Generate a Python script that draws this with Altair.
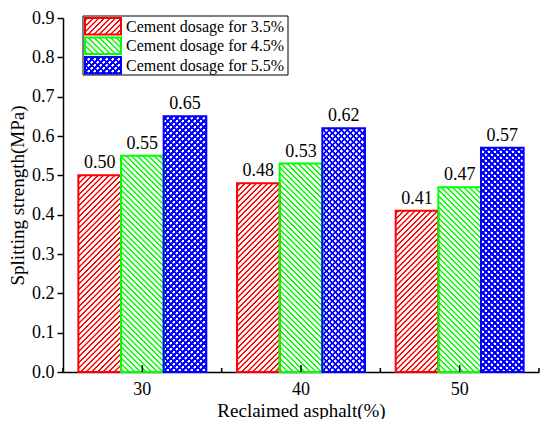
import altair as alt

# ---- data ----
categories = ["30", "40", "50"]
dosages = ["Cement dosage for 3.5%", "Cement dosage for 4.5%", "Cement dosage for 5.5%"]
v35 = [0.50, 0.48, 0.41]
v45 = [0.55, 0.53, 0.47]
v55 = [0.65, 0.62, 0.57]
colors = ["#FF0000", "#00FF00", "#0000FF"]
series = [v35, v45, v55]

FONT = "Liberation Serif"
W, H = 476, 354
YMAX = 0.9
PO = 0.36
bar_w = (W / 3) / (3 + 2 * PO)


def hatch(w, h, direction, color, bg, period=5.6, lw=2.0, soft=0.6):
    L = w + h
    m = max(1.0, L * w / (w * w + h * h)) * 1.02
    k = w / (m * (w * w + h * h))
    if direction == "/":
        x1, y1, x2, y2 = 0, 0, m, m * h / w
    else:
        x1, y1, x2, y2 = 0, 1, m, 1 - m * h / w
    stops = [{"offset": 0, "color": bg}]
    last = 0.0
    c = period / 2
    while c - lw / 2 - soft < L:
        for e, col in ((c - lw / 2 - soft / 2, bg), (c - lw / 2 + soft / 2, color),
                       (c + lw / 2 - soft / 2, color), (c + lw / 2 + soft / 2, bg)):
            t = min(1.0, max(last, e * k))
            stops.append({"offset": round(t, 5), "color": col})
            last = t
        c += period
    stops.append({"offset": 1, "color": bg})
    return {"gradient": "linear", "x1": x1, "y1": y1, "x2": x2, "y2": round(y2, 5), "stops": stops}


def fills(i, w, h):
    if i == 0:
        return hatch(w, h, "/", colors[0], "#FFFFFF"), None
    if i == 1:
        return hatch(w, h, "\\", colors[1], "#FFFFFF"), None
    return (hatch(w, h, "/", colors[2], "#FFFFFF", period=6.0, lw=2.6),
            hatch(w, h, "\\", colors[2], "rgba(0,0,255,0)", period=6.0, lw=2.6))


records = []
for i, (d, vals) in enumerate(zip(dosages, series)):
    for c, v in zip(categories, vals):
        h = v / YMAX * H
        gA, gB = fills(i, bar_w, h)
        rec = {"cat": c, "dosage": d, "value": v, "color": colors[i], "gA": gA}
        if gB is not None:
            rec["gB"] = gB
        records.append(rec)

bars_data = alt.Data(values=records)

x_enc = alt.X("cat:N", sort=categories,
              scale=alt.Scale(paddingInner=0, paddingOuter=0),
              axis=alt.Axis(title="Reclaimed asphalt(%)", labelAngle=0, ticks=False,
                            labelPadding=8, labelFontSize=18, titleFontSize=19,
                            titlePadding=3, domainWidth=1.5, zindex=0))
xo_enc = alt.XOffset("dosage:N", sort=dosages,
                     scale=alt.Scale(paddingInner=0, paddingOuter=PO))
y_enc = alt.Y("value:Q", stack=None,
              scale=alt.Scale(domain=[0, YMAX], nice=False, zero=True),
              axis=alt.Axis(title="Splitting strength(MPa)",
                            values=[0, 0.1, 0.2, 0.3, 0.4, 0.5, 0.6, 0.7, 0.8, 0.9],
                            format=".1f", grid=False, tickSize=6, tickWidth=1.5,
                            domainWidth=1.5, labelPadding=3, labelFontSize=18,
                            titleFontSize=19, titlePadding=4, zindex=1))

base = alt.Chart(bars_data).encode(x=x_enc, xOffset=xo_enc, y=y_enc)

layer_a = base.mark_bar().encode(fill=alt.Fill("gA:N", scale=None))
layer_b = base.transform_filter(alt.datum.dosage == dosages[2]).mark_bar().encode(
    fill=alt.Fill("gB:N", scale=None))
layer_s = base.mark_bar(fill="white", fillOpacity=0, strokeWidth=2).encode(
    stroke=alt.Stroke("color:N", scale=None))
labels = base.mark_text(baseline="bottom", dy=-3, font=FONT, fontSize=18, color="black").encode(
    text=alt.Text("value:Q", format=".2f"))

tick_data = alt.Data(values=[{"cat": c} for c in categories])
major_ticks = alt.Chart(tick_data).mark_rule(color="black", strokeWidth=1.5).encode(
    x=alt.X("cat:N", sort=categories), y=alt.value(H), y2=alt.value(H - 7))
minor_ticks = alt.Chart(tick_data).mark_rule(color="black", strokeWidth=1.5).encode(
    x=alt.X("cat:N", sort=categories, bandPosition=0), y=alt.value(H), y2=alt.value(H - 4))
end_tick = alt.Chart(alt.Data(values=[{"cat": categories[-1]}])).mark_rule(
    color="black", strokeWidth=1.5).encode(
    x=alt.X("cat:N", sort=categories, bandPosition=1), y=alt.value(H), y2=alt.value(H - 4))

# ---- legend (drawn by hand so swatches can carry the hatch patterns) ----
one = alt.Data(values=[{"k": 1}])
LX0, LX1, LY0, LY1 = 20, 225, -2, 57
SX0, SX1 = 22, 58
legend_layers = [
    alt.Chart(one).mark_rect(fill="white", stroke="black", strokeWidth=1).encode(
        x=alt.value(LX0), x2=alt.value(LX1), y=alt.value(LY0), y2=alt.value(LY1))
]
for i, d in enumerate(dosages):
    ya, yb = 0 + 19.5 * i, 16.5 + 19.5 * i
    gA, gB = fills(i, SX1 - SX0, yb - ya)
    legend_layers.append(alt.Chart(one).mark_rect(fill=gA).encode(
        x=alt.value(SX0), x2=alt.value(SX1), y=alt.value(ya), y2=alt.value(yb)))
    if gB is not None:
        legend_layers.append(alt.Chart(one).mark_rect(fill=gB).encode(
            x=alt.value(SX0), x2=alt.value(SX1), y=alt.value(ya), y2=alt.value(yb)))
    legend_layers.append(alt.Chart(one).mark_rect(fill="white", fillOpacity=0, stroke=colors[i],
                                                  strokeWidth=2).encode(
        x=alt.value(SX0), x2=alt.value(SX1), y=alt.value(ya), y2=alt.value(yb)))
    legend_layers.append(alt.Chart(one).mark_text(text=d, align="left", baseline="middle",
                                                  font=FONT, fontSize=16, color="black").encode(
        x=alt.value(SX1 + 5), y=alt.value((ya + yb) / 2 + 0.5)))

chart = alt.layer(layer_a, layer_b, layer_s, labels, major_ticks, minor_ticks, end_tick,
                  *legend_layers).properties(
    width=W, height=H, autosize="none", background="white",
    padding={"left": 55, "top": 10, "right": 3, "bottom": 47},
).configure_view(stroke=None).configure_axis(
    labelFont=FONT, titleFont=FONT, labelColor="black", titleColor="black",
    domainColor="black", tickColor="black", titleFontWeight="normal",
)

chart.save("out.html", embed_options={"renderer": "svg", "actions": False})
